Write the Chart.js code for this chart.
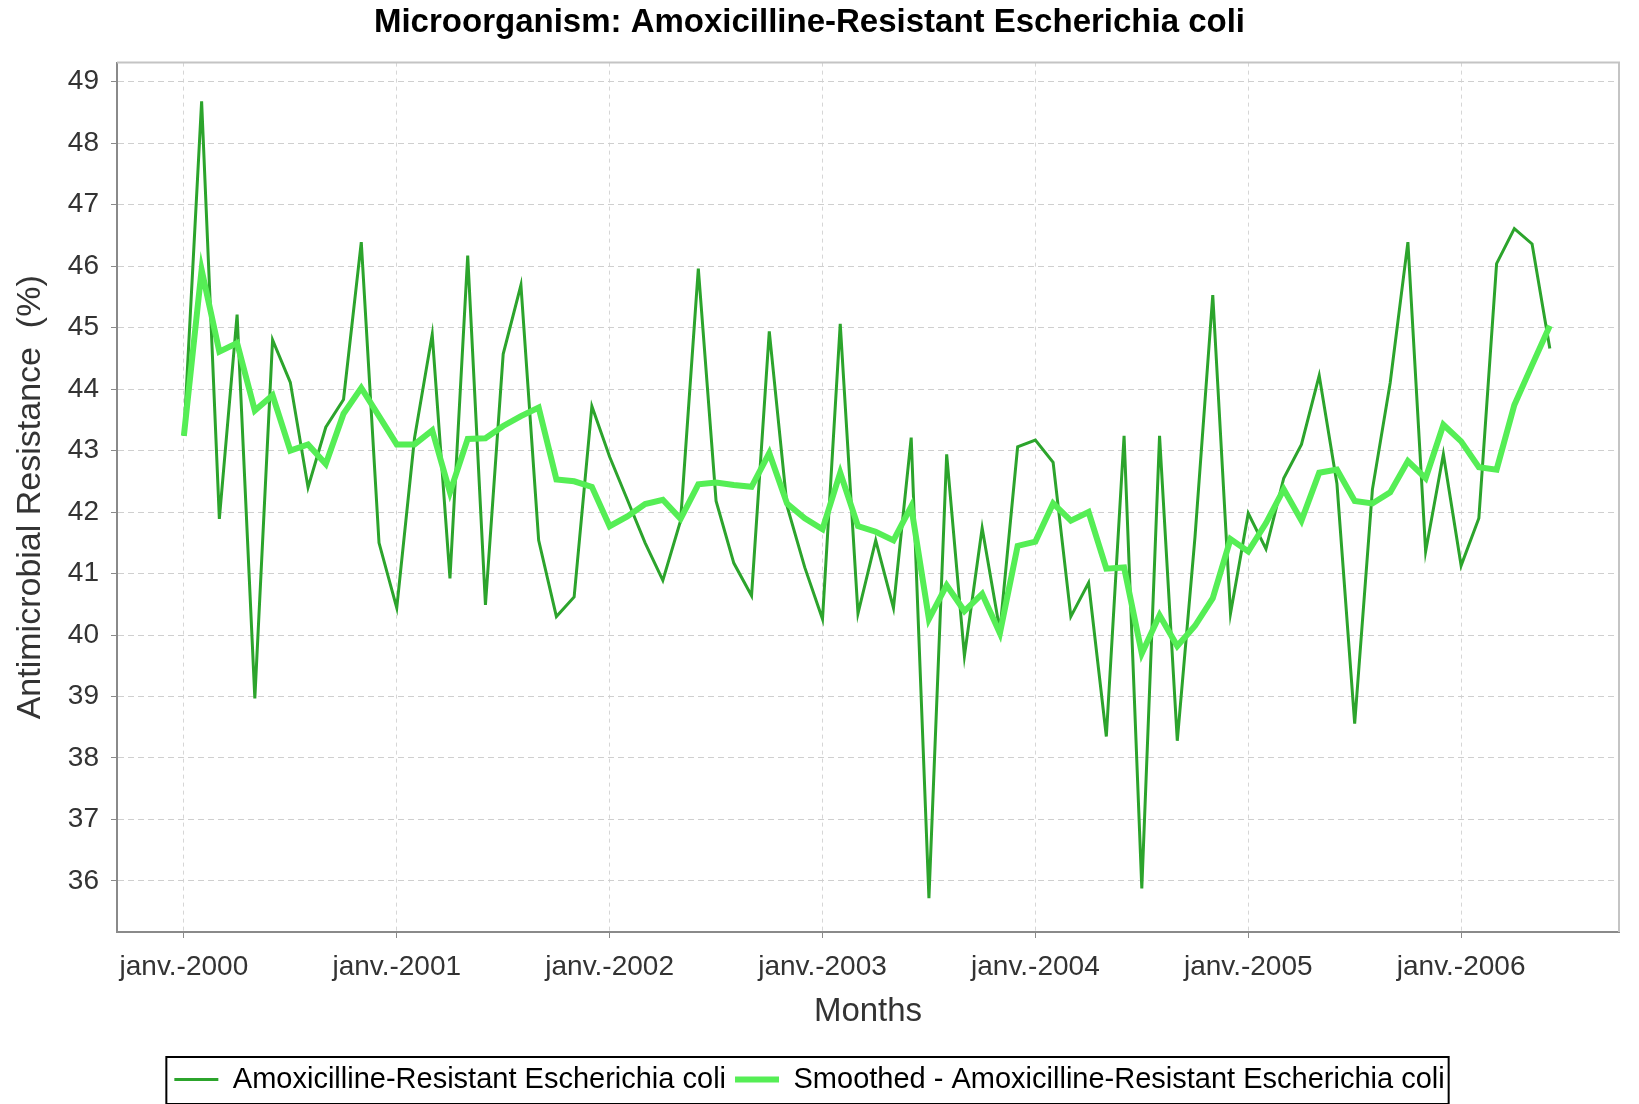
<!DOCTYPE html>
<html>
<head>
<meta charset="utf-8">
<title>Microorganism: Amoxicilline-Resistant Escherichia coli</title>
<script src="https://cdn.jsdelivr.net/npm/chart.js@4.4.0/dist/chart.umd.min.js"></script>
<style>
    body { margin: 0; background: #ffffff; }
    #chart-box { width: 1639px; height: 1104px; }
</style>
</head>
<body>
<div id="chart-box"><canvas id="resistance-chart" width="1639" height="1104"></canvas></div>
<script>
// month index 0 = janv.-2000
var tickMonths = [0, 12, 24, 36, 48, 60, 72];
var tickLabels = ['janv.-2000', 'janv.-2001', 'janv.-2002', 'janv.-2003', 'janv.-2004', 'janv.-2005', 'janv.-2006'];
var yTicks = [36, 37, 38, 39, 40, 41, 42, 43, 44, 45, 46, 47, 48, 49];

// monthly resistance (%), janv.-2000 .. juin-2006
var resistance = [
    43.24, 48.68, 41.89, 45.21, 38.97, 44.80, 44.11, 42.40, 43.38, 43.83, 46.39, 41.50,
    40.44, 43.20, 44.89, 40.92, 46.17, 40.49, 44.57, 45.69, 41.54, 40.30, 40.62, 43.72,
    42.90, 42.20, 41.50, 40.89, 41.86, 45.96, 42.18, 41.17, 40.64, 44.94, 42.10, 41.10,
    40.26, 45.06, 40.35, 41.54, 40.44, 43.21, 35.72, 42.94, 39.66, 41.74, 40.07, 43.06,
    43.17, 42.81, 40.30, 40.85, 38.35, 43.24, 35.88, 43.24, 38.28, 41.60, 45.53, 40.35,
    41.98, 41.40, 42.55, 43.10, 44.22, 42.46, 38.56, 42.37, 44.10, 46.39, 41.36, 42.94,
    41.13, 41.90, 46.04, 46.61, 46.36, 44.66
];

var smoothed = [
    43.24, 45.94, 44.61, 44.75, 43.65, 43.90, 43.00, 43.10, 42.78, 43.60, 44.02, 43.56,
    43.10, 43.10, 43.33, 42.32, 43.19, 43.20, 43.40, 43.56, 43.70, 42.53, 42.50, 42.41,
    41.77, 41.93, 42.13, 42.20, 41.89, 42.45, 42.48, 42.44, 42.41, 42.96, 42.14, 41.90,
    41.72, 42.64, 41.77, 41.68, 41.54, 42.09, 40.26, 40.81, 40.39, 40.67, 40.03, 41.45,
    41.52, 42.14, 41.86, 42.00, 41.08, 41.10, 39.70, 40.32, 39.82, 40.15, 40.60, 41.56,
    41.36, 41.82, 42.37, 41.86, 42.64, 42.69, 42.18, 42.14, 42.32, 42.83, 42.55, 43.42,
    43.15, 42.73, 42.69, 43.74, 44.39, 45.03
];

function toPoints(values)
{
    var pts = [] ;
    for (let i in values)
    {
        pts.push({ x: Number(i), y: values[i] }) ;
    }
    return pts ;
}

Chart.defaults.font.family = "'Liberation Sans', Arial, sans-serif";

// light frame on top/right of the plot
var plotFrame = {
    id: 'plotFrame',
    beforeDatasetsDraw: function(chart)
    {
        var a = chart.chartArea, ctx = chart.ctx;
        ctx.save();
        ctx.strokeStyle = '#c4c4c4';
        ctx.lineWidth = 2;
        ctx.beginPath();
        ctx.moveTo(a.left, a.top);
        ctx.lineTo(a.right, a.top);
        ctx.lineTo(a.right, a.bottom);
        ctx.stroke();
        ctx.restore();
    }
};

// black box around the legend
var legendBorder = {
    id: 'legendBorder',
    afterDraw: function(chart)
    {
        var lg = chart.legend, boxes = lg.legendHitBoxes;
        if (!boxes || !boxes.length) return;
        var first = boxes[0], last = boxes[boxes.length - 1];
        var ctx = chart.ctx;
        ctx.save();
        ctx.strokeStyle = '#000000';
        ctx.lineWidth = 2;
        ctx.strokeRect(first.left - 8, lg.top + 1, (last.left + last.width) - first.left + 12, lg.bottom - lg.top - 1);
        ctx.restore();
    }
};

var ctx = document.getElementById('resistance-chart').getContext('2d');
var chart = new Chart(ctx,
{
    type: 'line',
    data:
    {
        datasets:
        [
            {
                label: 'Amoxicilline-Resistant Escherichia coli',
                data: toPoints(resistance),
                borderColor: '#2ca42c',
                backgroundColor: '#2ca42c',
                borderWidth: 3,
                pointRadius: 0,
                tension: 0,
                fill: false,
                order: 2
            },
            {
                label: 'Smoothed - Amoxicilline-Resistant Escherichia coli',
                data: toPoints(smoothed),
                borderColor: '#55ee55',
                backgroundColor: '#55ee55',
                borderWidth: 6,
                pointRadius: 0,
                tension: 0,
                fill: false,
                order: 1
            }
        ]
    },
    options:
    {
        responsive: false,
        animation: false,
        layout: { padding: { left: 0, right: 20, top: 0, bottom: 0 } },
        plugins:
        {
            title:
            {
                display: true,
                text: 'Microorganism: Amoxicilline-Resistant Escherichia coli',
                color: '#000000',
                font: { size: 33, weight: 'bold' },
                padding: { top: 3, bottom: 20 }
            },
            legend:
            {
                position: 'bottom',
                labels:
                {
                    usePointStyle: true,
                    pointStyle: 'line',
                    pointStyleWidth: 44,
                    color: '#000000',
                    font: { size: 29 },
                    padding: 9,
                    sort: function(a, b) { return a.datasetIndex - b.datasetIndex; }
                }
            },
            tooltip: { enabled: false }
        },
        scales:
        {
            x:
            {
                type: 'linear',
                min: -3.77,
                max: 80.9,
                afterBuildTicks: function(scale)
                {
                    scale.ticks = tickMonths.map(function(m) { return { value: m }; });
                },
                afterFit: function(scale) { scale.height = 124; },
                ticks:
                {
                    autoSkip: false,
                    maxRotation: 0,
                    padding: 12,
                    color: '#333333',
                    font: { size: 28 },
                    callback: function(value) { return tickLabels[tickMonths.indexOf(value)]; }
                },
                grid: { color: '#d6d6d6', lineWidth: 1, tickLength: 6, tickColor: '#8a8a8a' },
                border: { color: '#8a8a8a', width: 2, dash: [4, 4] },
                title:
                {
                    display: true,
                    text: 'Months',
                    color: '#333333',
                    font: { size: 33 },
                    padding: { top: 0, bottom: 24 }
                }
            },
            y:
            {
                min: 35.17,
                max: 49.31,
                afterBuildTicks: function(scale)
                {
                    scale.ticks = yTicks.map(function(v) { return { value: v }; });
                },
                afterFit: function(scale) { scale.width = 117; },
                ticks:
                {
                    padding: 12,
                    color: '#333333',
                    font: { size: 28 }
                },
                grid: { color: '#cfcfcf', lineWidth: 1, tickLength: 6, tickColor: '#8a8a8a' },
                border: { color: '#8a8a8a', width: 2, dash: [6, 4] },
                title:
                {
                    display: true,
                    text: 'Antimicrobial Resistance  (%)',
                    color: '#333333',
                    font: { size: 34 },
                    padding: { top: 10, bottom: 0 }
                }
            }
        }
    },
    plugins: [plotFrame, legendBorder]
}); // CHART
</script>
</body>
</html>
